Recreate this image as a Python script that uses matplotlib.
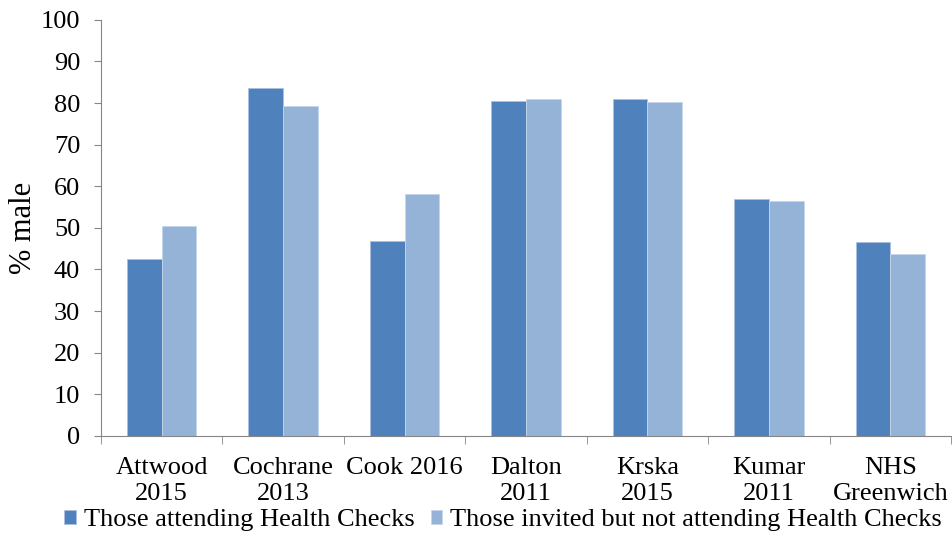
import matplotlib.pyplot as plt
import numpy as np

plt.rcParams['font.family'] = ['Liberation Serif', 'DejaVu Serif']

studies = ['Attwood\n2015', 'Cochrane\n2013', 'Cook 2016', 'Dalton\n2011',
           'Krska\n2015', 'Kumar\n2011', 'NHS\nGreenwich']
attending = [42.5, 83.6, 46.8, 80.5, 80.9, 57.0, 46.5]
not_attending = [50.4, 79.2, 58.2, 81.1, 80.2, 56.4, 43.7]
series_names = ['Those attending Health Checks',
                'Those invited but not attending Health Checks']

fig = plt.figure(figsize=(9.53, 5.38), dpi=100)
ax = fig.add_axes([0.106, 0.190, 0.892, 0.773])

x = np.arange(len(studies))
w = 0.286
b1 = ax.bar(x - w / 2, attending, w, color='#4F81BD', edgecolor='#A9C0E0', linewidth=0.6,
            label=series_names[0])
b2 = ax.bar(x + w / 2, not_attending, w, color='#95B3D7', edgecolor='#C6D6EA', linewidth=0.6,
            label=series_names[1])

ax.set_xlim(-0.5, len(studies) - 0.5)
ax.set_ylim(0, 100)
ax.set_yticks(range(0, 101, 10))
ax.tick_params(axis='y', labelsize=19, length=5, color='#868686', pad=10)

ax.set_xticks(x)
ax.set_xticklabels(studies, fontsize=19, linespacing=1.25, va='top')
ax.set_xticks(np.arange(-0.5, len(studies)), minor=True)
ax.tick_params(axis='x', which='major', length=0, pad=15)
ax.tick_params(axis='x', which='minor', length=6, color='#868686')

for s in ['top', 'right']:
    ax.spines[s].set_visible(False)
for s in ['left', 'bottom']:
    ax.spines[s].set_color('#868686')

ax.set_ylabel('% male', fontsize=22, labelpad=2)

fig.legend(handles=[b1, b2], loc='center', bbox_to_anchor=(0.528, 0.033), ncol=2,
           frameon=False, fontsize=19, handlelength=0.45, handleheight=0.45,
           handletextpad=0.3, columnspacing=0.6, borderaxespad=0, borderpad=0)

fig.savefig('out.png', dpi=100)
